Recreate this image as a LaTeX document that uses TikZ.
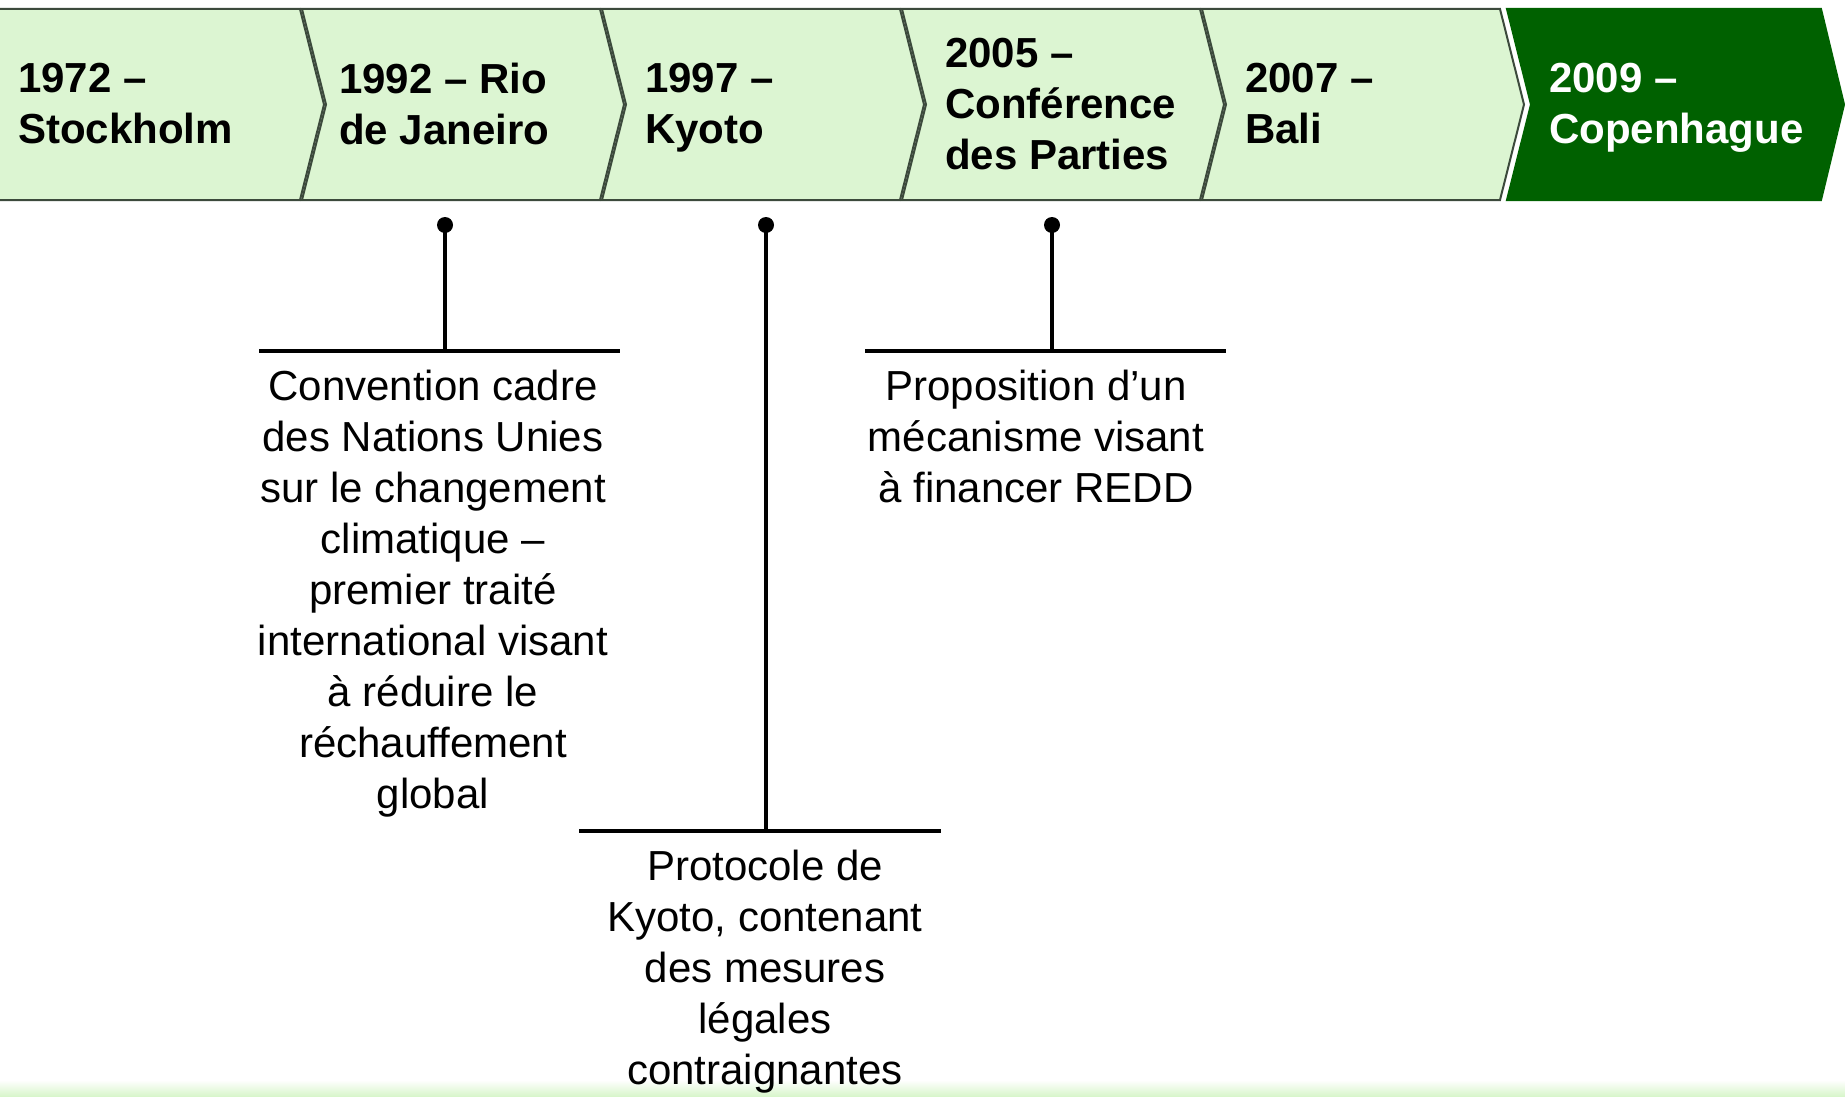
\documentclass[tikz,border=0pt]{standalone}
\usepackage{fontspec}
\setmainfont{Liberation Sans}
\definecolor{lightg}{HTML}{DCF5D2}
\definecolor{darkg}{HTML}{006100}
\definecolor{edgec}{HTML}{3C4A3C}
\definecolor{stripg}{HTML}{D6F5C8}
\begin{document}
\begin{tikzpicture}[x=1pt,y=-1pt,
  chev/.style={draw=edgec, line width=2pt, fill=lightg, line join=miter},
  chevdark/.style={draw=darkg, line width=2pt, fill=darkg, line join=miter},
  yearlbl/.style={anchor=north west, inner sep=0, align=left, font=\fontsize{42}{51}\selectfont\bfseries},
  desc/.style={anchor=north, inner sep=0, align=center, font=\fontsize{42}{51}\selectfont},
  pin/.style={circle, fill=black, inner sep=0, minimum size=16pt},
  stem/.style={line width=4pt}]
\useasboundingbox (0,0) rectangle (1845,1097);
\fill[white] (0,0) rectangle (1845,1097);
\shade[top color=white, bottom color=stripg] (0,1080) rectangle (1845,1097);

% chevrons
\path[chev] (-5,9) -- (300,9) -- (324,104.5) -- (300,200) -- (-5,200) -- cycle;
\path[chev] (302,9) -- (600,9) -- (624,104.5) -- (600,200) -- (302,200) -- (326,104.5) -- cycle;
\path[chev] (602,9) -- (900,9) -- (924,104.5) -- (900,200) -- (602,200) -- (626,104.5) -- cycle;
\path[chev] (902,9) -- (1200,9) -- (1224,104.5) -- (1200,200) -- (902,200) -- (926,104.5) -- cycle;
\path[chev] (1202,9) -- (1500,9) -- (1524,104.5) -- (1500,200) -- (1202,200) -- (1226,104.5) -- cycle;
\path[chevdark] (1507,9) -- (1821,9) -- (1844,104.5) -- (1821,200) -- (1507,200) -- (1531,104.5) -- cycle;

\node[yearlbl] (y1972) at (18,63) {1972 –\\Stockholm};
\node[yearlbl] (y1992) at (339,63) {1992 – Rio\\de Janeiro};
\node[yearlbl] (y1997) at (645,63) {1997 –\\Kyoto};
\node[yearlbl] (y2005) at (945,38) {2005 –\\Conférence\\des Parties};
\node[yearlbl] (y2007) at (1245,63) {2007 –\\Bali};
\node[yearlbl, text=white] (y2009) at (1549,63) {2009 –\\Copenhague};

% pins and stems
\node[pin] (p1) at (445,225) {};
\node[pin] (p2) at (766,225) {};
\node[pin] (p3) at (1052,225) {};
\coordinate (s1) at (445,351);
\coordinate (s2) at (766,831);
\coordinate (s3) at (1052,351);
\coordinate (b1l) at (259,351);
\coordinate (b1r) at (620,351);
\coordinate (b2l) at (579,831);
\coordinate (b2r) at (941,831);
\coordinate (b3l) at (865,351);
\coordinate (b3r) at (1226,351);
\draw[stem] (p1.center) -- (s1);
\draw[stem] (p2.center) -- (s2);
\draw[stem] (p3.center) -- (s3);
\draw[stem] (b1l) -- (b1r);
\draw[stem] (b2l) -- (b2r);
\draw[stem] (b3l) -- (b3r);

\node[desc] (t1) at (433,370) {Convention cadre\\des Nations Unies\\sur le changement\\climatique –\\premier traité\\international visant\\à réduire le\\réchauffement\\global};
\node[desc] (t2) at (765,850) {Protocole de\\Kyoto, contenant\\des mesures\\légales\\contraignantes};
\node[desc] (t3) at (1036,370) {Proposition d’un\\mécanisme visant\\à financer REDD};
\end{tikzpicture}
\end{document}
